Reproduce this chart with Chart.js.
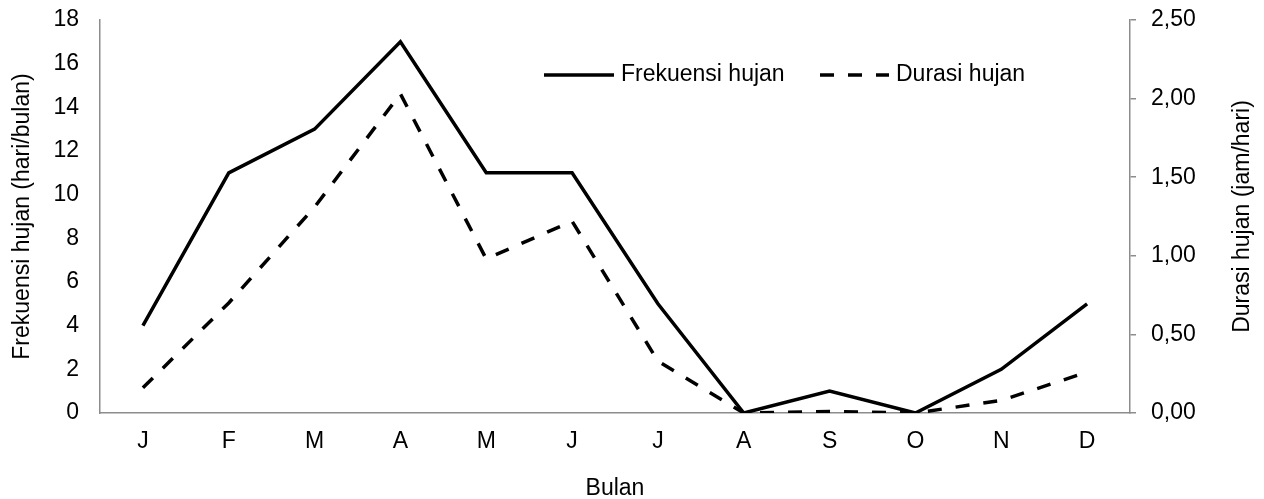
<!DOCTYPE html>
<html>
<head>
<meta charset="utf-8">
<script src="https://cdn.jsdelivr.net/npm/chart.js@4.4.0/dist/chart.umd.min.js"></script>
<style>
  html, body { margin: 0; padding: 0; background: #fff; }
  #chart { display: block; }
</style>
</head>
<body>
<canvas id="chart" width="1264" height="499"></canvas>
<script>
const months = ["J", "F", "M", "A", "M", "J", "J", "A", "S", "O", "N", "D"];
const frekuensi = [4, 11, 13, 17, 11, 11, 5, 0, 1, 0, 2, 5];
const durasi = [0.16, 0.70, 1.31, 2.03, 0.98, 1.22, 0.33, 0, 0.01, 0, 0.08, 0.26];

const FONT = "'Liberation Sans', Arial, sans-serif";
const FS = 23;
const axisGray = "#8c8c8c";
const rightTitle = "Durasi hujan (jam/hari)";

// legend inside the plot + right axis title read bottom-to-top (as in the original)
const extras = {
  id: "extras",
  afterDraw(chart) {
    const ctx = chart.ctx;
    const y = 75;
    const items = [
      { ds: chart.data.datasets[0], x0: 544, x1: 614 },
      { ds: chart.data.datasets[1], x0: 820, x1: 889 }
    ];
    ctx.save();
    ctx.font = FS + "px " + FONT;
    ctx.fillStyle = "#000";
    ctx.textBaseline = "middle";
    items.forEach(it => {
      ctx.strokeStyle = it.ds.borderColor;
      ctx.lineWidth = it.ds.borderWidth;
      ctx.setLineDash(it.ds.borderDash || []);
      ctx.beginPath();
      ctx.moveTo(it.x0, y);
      ctx.lineTo(it.x1, y);
      ctx.stroke();
      ctx.setLineDash([]);
      ctx.fillText(it.ds.label, it.x1 + 7, y);
    });

    const a = chart.chartArea;
    ctx.translate(1243, (a.top + a.bottom) / 2);
    ctx.rotate(-Math.PI / 2);
    ctx.textAlign = "center";
    ctx.fillText(rightTitle, 0, 0);
    ctx.restore();
  }
};

function noPad(s) {
  s.paddingTop = 0;
  s.paddingBottom = 0;
}

new Chart(document.getElementById("chart").getContext("2d"), {
  type: "line",
  data: {
    labels: months,
    datasets: [
      {
        label: "Frekuensi hujan",
        data: frekuensi,
        yAxisID: "y",
        borderColor: "#000",
        borderWidth: 3.5,
        pointRadius: 0,
        tension: 0
      },
      {
        label: "Durasi hujan",
        data: durasi,
        yAxisID: "y1",
        borderColor: "#000",
        borderWidth: 3.5,
        borderDash: [14, 14],
        pointRadius: 0,
        tension: 0
      }
    ]
  },
  options: {
    responsive: false,
    animation: false,
    layout: { padding: { top: 20, left: 0, right: 0, bottom: 0 } },
    plugins: {
      legend: { display: false },
      tooltip: { enabled: false }
    },
    scales: {
      x: {
        offset: true,
        grid: { display: false, drawTicks: false },
        border: { color: axisGray, width: 1.5 },
        ticks: { color: "#000", font: { family: FONT, size: FS }, padding: 15, maxRotation: 0 },
        title: { display: true, text: "Bulan", color: "#000", font: { family: FONT, size: FS }, padding: { top: 0, bottom: -3 } },
        afterFit(s) { s.height = 86; s.paddingLeft = 0; s.paddingRight = 0; }
      },
      y: {
        position: "left",
        min: 0,
        max: 18,
        ticks: { stepSize: 2, color: "#000", font: { family: FONT, size: FS }, padding: 21 },
        grid: { display: false, drawTicks: false },
        border: { color: axisGray, width: 1.5 },
        title: { display: true, text: "Frekuensi hujan (hari/bulan)", color: "#000", font: { family: FONT, size: FS }, padding: { top: 9, bottom: 0 } },
        afterFit(s) { s.width = 100; noPad(s); }
      },
      y1: {
        position: "right",
        min: 0,
        max: 2.5,
        ticks: {
          stepSize: 0.5,
          color: "#000",
          font: { family: FONT, size: FS },
          padding: 15,
          callback: v => v.toFixed(2).replace(".", ",")
        },
        grid: { drawOnChartArea: false, drawTicks: true, tickLength: 6, color: axisGray, lineWidth: 1.5 },
        border: { color: axisGray, width: 1.5 },
        title: { display: false },
        afterFit(s) { s.width = 134; noPad(s); }
      }
    }
  },
  plugins: [extras]
});
</script>
</body>
</html>
